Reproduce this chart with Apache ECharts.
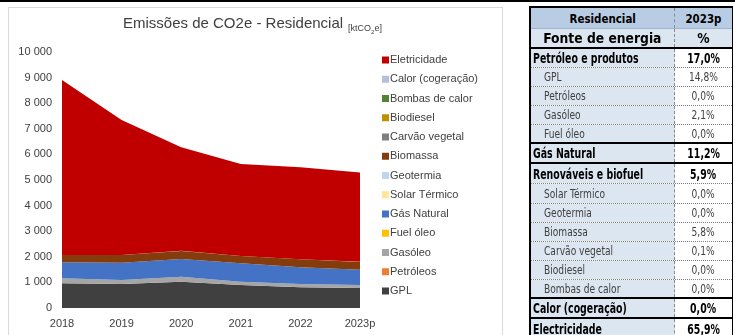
<!DOCTYPE html>
<html>
<head>
<meta charset="utf-8">
<script src="https://cdn.jsdelivr.net/npm/echarts@6/dist/echarts.min.js"></script>
<style>
  html, body { margin: 0; padding: 0; background: #fff; }
  #wrap { position: relative; width: 735px; height: 335px; overflow: hidden; background: #fff; }
  #topbar { position: absolute; left: 0; top: 0; width: 735px; height: 2px; background: #000; }
  #panel { position: absolute; left: 8px; top: 7px; width: 495px; height: 340px; border: 1px solid #d9d9d9; box-sizing: border-box; }
  #chart { position: absolute; left: 0; top: 0; width: 735px; height: 335px; }
  #tbl { position: absolute; left: 529px; top: 6px; width: 204px; border-left: 2px solid #000; border-top: 2px solid #000; border-right: 1px solid #000; box-sizing: border-box; font-family: "DejaVu Sans Condensed", "DejaVu Sans", sans-serif; color: #000; }
  .row { display: flex; box-sizing: border-box; }
  .c1 { width: 144px; background: #dce6f1; border-right: 1px dashed #8a8a8a; box-sizing: border-box; display: flex; align-items: center; white-space: nowrap; }
  .c2 { flex: 1; background: #fff; display: flex; align-items: center; justify-content: center; white-space: nowrap; }
  .c1 span, .c2 span { display: inline-block; }
  .c1 span { transform-origin: left center; }
  .c2 span { transform-origin: center center; }
  .head .c1, .head .c2 { background: #b8cce4; }
  .head2 .c1, .head2 .c2 { background: #dce6f1; }
  .head .c1, .head2 .c1 { justify-content: center; }
  .head .c1 span, .head2 .c1 span { transform-origin: center center; }
  .head { font-weight: bold; font-size: 13px; }
  .head span { transform: scaleX(0.88); }
  .head2 { font-weight: bold; font-size: 14px; }
  .head2 span { transform: scaleX(0.98); }
  .main { font-weight: bold; font-size: 14.5px; }
  .main .c1 { padding-left: 2px; }
  .main span { transform: scaleX(0.72); }
  .sub { font-size: 11.5px; color: #404040; }
  .sub .c1 { padding-left: 13px; }
  .sub span { transform: scaleX(0.88); }
</style>
</head>
<body>
<div id="wrap">
  <div id="topbar"></div>
  <div id="panel"></div>
  <div id="chart"></div>
  <div id="tbl"></div>
</div>
<script>
// Years on the horizontal axis
const years = ['2018', '2019', '2020', '2021', '2022', '2023p'];

// Residential CO2e emissions by energy source [ktCO2e], stacked bottom to top
const gpl          = [965, 941, 1027, 898, 809, 785];
const petroleos    = [0, 0, 0, 0, 0, 0];
const gasoleo      = [195, 153, 196, 129, 129, 111];
const fuelOleo     = [0, 0, 0, 0, 0, 0];
const gasNatural   = [625, 676, 691, 719, 652, 594];
const solarTermico = [0, 0, 0, 0, 0, 0];
const geotermia    = [0, 0, 0, 0, 0, 0];
const biomassa     = [285, 300, 313, 285, 312, 307];
const carvaoVeg    = [5, 5, 5, 5, 5, 5];
const biodiesel    = [0, 0, 0, 0, 0, 0];
const bombasCalor  = [0, 0, 0, 0, 0, 0];
const calorCog     = [0, 0, 0, 0, 0, 0];
const eletricidade = [6830, 5270, 4045, 3590, 3590, 3493];

// Y axis scale
const yMax = 10000;
const yStep = 1000;

// 2023p share by energy source
const tableHead = ['Residencial', '2023p'];
const tableSub = ['Fonte de energia', '%'];
const tableLabels = ['Petróleo e produtos', 'GPL', 'Petróleos', 'Gasóleo', 'Fuel óleo', 'Gás Natural',
  'Renováveis e biofuel', 'Solar Térmico', 'Geotermia', 'Biomassa', 'Carvão vegetal', 'Biodiesel',
  'Bombas de calor', 'Calor (cogeração)', 'Electricidade'];
const tableValues = ['17,0%', '14,8%', '0,0%', '2,1%', '0,0%', '11,2%', '5,9%', '0,0%', '0,0%', '5,8%',
  '0,1%', '0,0%', '0,0%', '0,0%', '65,9%'];
const tableLevel = [0, 1, 1, 1, 1, 0, 0, 1, 1, 1, 1, 1, 1, 0, 0];

// Build the table
(function () {
  const heights = [21, 20, 19, 19, 19, 19, 19, 20, 20, 20, 19, 19, 19, 19, 19, 20, 20];
  const tbl = document.getElementById('tbl');
  const rows = [];
  rows.push({ cls: 'head', a: tableHead[0], b: tableHead[1] });
  rows.push({ cls: 'head2', a: tableSub[0], b: tableSub[1] });
  tableLabels.forEach((l, i) => rows.push({ cls: tableLevel[i] ? 'sub' : 'main', a: l, b: tableValues[i] }));
  rows.forEach((r, i) => {
    const d = document.createElement('div');
    d.className = 'row ' + r.cls;
    d.style.height = heights[i] + 'px';
    const next = rows[i + 1];
    let bb;
    if (i === 0) bb = '1px solid #9fb3cc';
    else if (!next) bb = 'none';
    else if (next.cls === 'main' || r.cls === 'head2' || (r.cls === 'main' && next.cls === 'main')) bb = '2px solid #000';
    else bb = '1px dotted #7f7f7f';
    d.style.borderBottom = bb;
    const c1 = document.createElement('div'); c1.className = 'c1';
    const s1 = document.createElement('span'); s1.textContent = r.a; c1.appendChild(s1);
    const c2 = document.createElement('div'); c2.className = 'c2';
    const s2 = document.createElement('span'); s2.textContent = r.b; c2.appendChild(s2);
    d.appendChild(c1); d.appendChild(c2);
    tbl.appendChild(d);
  });
})();

const seriesDefs = [
  ['GPL', gpl, '#404040'],
  ['Petróleos', petroleos, '#ed7d31'],
  ['Gasóleo', gasoleo, '#a5a5a5'],
  ['Fuel óleo', fuelOleo, '#ffc000'],
  ['Gás Natural', gasNatural, '#4472c4'],
  ['Solar Térmico', solarTermico, '#ffe699'],
  ['Geotermia', geotermia, '#bdd7ee'],
  ['Biomassa', biomassa, '#843c0c'],
  ['Carvão vegetal', carvaoVeg, '#7f7f7f'],
  ['Biodiesel', biodiesel, '#bf9000'],
  ['Bombas de calor', bombasCalor, '#548235'],
  ['Calor (cogeração)', calorCog, '#b4c0d8'],
  ['Eletricidade', eletricidade, '#c00000']
];

const fmt = v => String(v).replace(/\B(?=(\d{3})+(?!\d))/g, ' ');

const chart = echarts.init(document.getElementById('chart'), null, { renderer: 'canvas' });
chart.setOption({
  animation: false,
  textStyle: { fontFamily: 'Liberation Sans, sans-serif' },
  title: {
    text: '{m|Emissões de CO2e - Residencial} {s|[ktCO}{u|2}{s|e]}',
    left: 118, top: 10,
    textStyle: {
      fontWeight: 'normal',
      rich: {
        m: { fontSize: 15, color: '#404040', fontWeight: 'normal' },
        s: { fontSize: 9, color: '#404040', fontWeight: 'normal', verticalAlign: 'bottom' },
        u: { fontSize: 6, color: '#404040', fontWeight: 'normal', verticalAlign: 'bottom', padding: [0, 0, -2, 0] }
      }
    }
  },
  legend: {
    orient: 'vertical',
    left: 377, top: 49,
    icon: 'rect', itemWidth: 7, itemHeight: 7, itemGap: 7.25,
    data: seriesDefs.map(s => s[0]).reverse(),
    textStyle: { fontSize: 11, color: '#404040', lineHeight: 12, padding: [0, 0, 0, -4] },
    selectedMode: false
  },
  grid: { left: 62, right: 375, top: 52, bottom: 27, containLabel: false },
  xAxis: {
    type: 'category', data: years, boundaryGap: false,
    axisLine: { show: false }, axisTick: { show: false },
    axisLabel: { color: '#404040', fontSize: 11, margin: 10 }
  },
  yAxis: {
    type: 'value', min: 0, max: yMax, interval: yStep,
    axisLine: { show: false }, axisTick: { show: false }, splitLine: { show: false },
    axisLabel: { color: '#404040', fontSize: 11, margin: 10, formatter: fmt }
  },
  series: seriesDefs.map(([name, data, color]) => ({
    name, type: 'line', stack: 'total', data,
    symbol: 'none', smooth: false,
    lineStyle: { width: 0 },
    areaStyle: { color, opacity: 1 },
    itemStyle: { color },
    emphasis: { disabled: true }
  }))
});
</script>
</body>
</html>
